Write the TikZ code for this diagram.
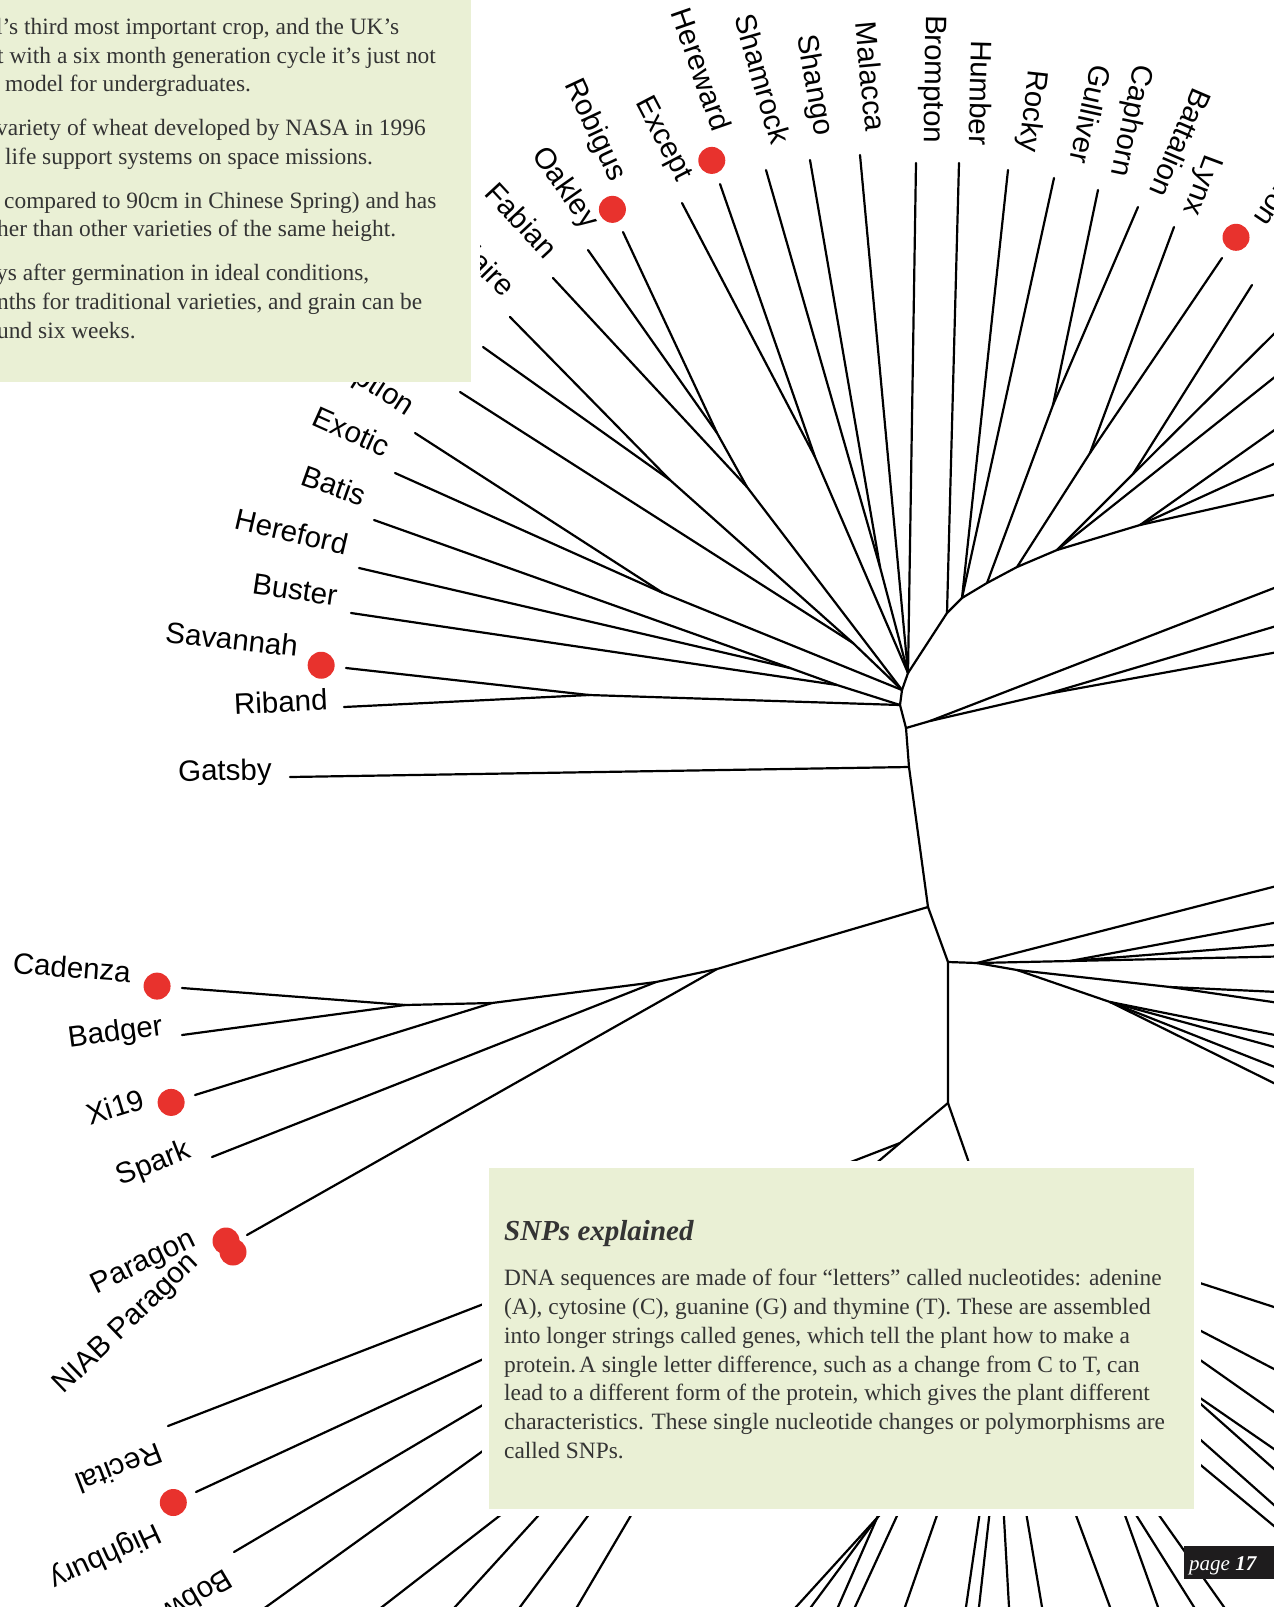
\documentclass[tikz,border=0pt]{standalone}
\usepackage{fontspec}
\setmainfont{Liberation Serif}
\setsansfont{Liberation Sans}
\usetikzlibrary{calc}

\definecolor{panelgreen}{RGB}{234,240,213}
\definecolor{snpred}{RGB}{232,50,45}
\definecolor{inkgrey}{RGB}{52,52,52}
\definecolor{tagblack}{RGB}{30,28,29}

\begin{document}
\begin{tikzpicture}[x=1pt, y=-1pt,
  br/.style={line width=2.2pt, line cap=round, line join=round},
  lab/.style={font=\sffamily\fontsize{29.5}{32}\selectfont, inner sep=0pt},
  hit/.style={circle, fill=snpred, minimum size=27pt, inner sep=0pt},
  copy/.style={anchor=base west, inner sep=0pt, text=inkgrey, font=\fontsize{23.4}{28}\selectfont},
  panel/.style={fill=panelgreen},
  snpbox/.style={fill=panelgreen, draw=white, line width=7pt}]

  \useasboundingbox (0,0) rectangle (1274,1607);
  \clip (0,0) rectangle (1274,1607);

  \foreach \nm/\cx/\cy in {b1/908/673, b2/902/690, b3/900/705, b4/906/728, b5/909/767, b6/928/907, b7/948/962, b8/948/1103,
      pa/670/480, pb/853/643, pc/663/593, pd/747/487, pe/717/433, pf/815/457, pg/880/567, ph/790/668, pi/837/685, pr/589/695,
      q1/947/613, q2/962/598, q3/987/583, q4/1017/567, q5/1057/550, q6/1140/525, qc/1053/405, qn/1090/453, qp/1133/474,
      k1/930/721, k2/1047/694, m1/977/963, m2/1070/961, m3/1017/970, m4/1110/1002, m5/1170/987,
      cb/405/1005, cx/492/1003, cs/656/982, cp/717/969, l1/900/1143, l2/840/1194, l3/968/1160, l4/990/1230}
    \coordinate (\nm) at (\cx,\cy);

  \draw[br] (pa) -- (pb) -- (b2);
  \draw[br] (pc) -- (b2);
  \draw[br] (pe) -- (pd) -- (b2);
  \draw[br] (pf) -- (b1);
  \draw[br] (pg) -- (b1);
  \draw[br] (ph) -- (pi) -- (b3);
  \draw[br] (pr) -- (b3);
  \draw[br] (b1) -- (b2) -- (b3) -- (b4) -- (b5) -- (b6) -- (b7) -- (b8);
  \draw[br] (b1) -- (q1) -- (q2) -- (q3) -- (q4) -- (q5) -- (q6);
  \draw[br] (q3) -- (qc);
  \draw[br] (q4) -- (qn);
  \draw[br] (q5) -- (qp);
  \draw[br] (b4) -- (k1) -- (k2);
  \draw[br] (b7) -- (m1) -- (m2);
  \draw[br] (m1) -- (m3) -- (m5);
  \draw[br] (m3) -- (m4);
  \draw[br] (b6) -- (cp) -- (cs) -- (cx) -- (cb);
  \draw[br] (b8) -- (l1) -- (l2);
  \draw[br] (b8) -- (l3) -- (l4);

  \foreach \up/\ex/\ey [count=\i] in {pa/483/347, pb/460/392, qp/1252/285, qp/1300/308, q5/1300/357,
      q6/1300/412, q6/1300/452, q6/1300/489, k1/1300/578, k2/1300/619, k2/1300/648,
      m1/1300/880, m2/1300/918, m2/1300/943, m2/1300/956, m5/1300/993, m5/1300/1006,
      m4/1300/1040, m4/1300/1054, m4/1300/1077, m4/1300/1096, l2/234/1630}
  {
    \coordinate (x\i) at (\ex,\ey);
    \draw[br] (\up) -- (x\i);
  }

  \foreach \ax/\ay/\bx/\by [count=\i] in {1203/1284/1274/1307, 1203/1332/1274/1369, 1203/1362/1274/1412,
      1203/1400/1274/1449, 1203/1406/1274/1469, 1203/1442/1274/1505, 1203/1467/1274/1526,
      877/1518/796/1607, 877/1518/811/1607, 877/1518/838/1607, 896/1518/855/1607, 936/1518/905/1607,
      979/1518/966/1607, 989/1518/979/1607, 1004/1518/1009/1607, 1027/1518/1042/1607, 1077/1518/1110/1607,
      1126/1518/1158/1607, 1138/1518/1194/1607, 1161/1518/1224/1607,
      498/1517/382/1607, 537/1517/455/1607, 587/1517/520/1607, 630/1517/577/1607}
  {
    \coordinate (s\i) at ($(\ax,\ay)!-.8!(\bx,\by)$);
    \coordinate (f\i) at ($(\ax,\ay)!1.3!(\bx,\by)$);
    \draw[br] (s\i) -- (f\i);
  }

  \foreach \nm/\tx/\ty/\up/\gp/\sh/\txt in {
      claire/510/317/pa/18/10/Claire, option/415/433/pc/16/12/Option, exotic/395/473/pc/16/12/Exotic,
      batis/374/520/ph/16/11/Batis, hereford/359/568/ph/16/12/Hereford, buster/351/613/pi/16/7/Buster,
      savannah/346/668/pr/50/8/Savannah, riband/344/707/pr/16/0/Riband, gatsby/290/777/b5/18/0/Gatsby,
      fabian/553/278/pd/18/8/Fabian, oakley/588/250/pe/18/11/Oakley, robigus/623/232/pe/50/12/Robigus,
      except/682/203/pf/20/8/Except, hereward/720/184/pf/50/12/Hereward, shamrock/766/170/pg/22/14/Shamrock,
      shango/810/160/pg/22/11/Shango, malacca/860/155/b1/22/10/Malacca, brompton/916/163/b1/20/10/Brompton,
      humber/959/163/q1/18/12/Humber, rocky/1008/170/q2/20/12/Rocky, gulliver/1054/178/q2/20/14/Gulliver,
      caphorn/1098/190/qc/18/12/Caphorn, battalion/1138/207/qc/18/6/Battalion, lynx/1174/227/qn/18/6/Lynx,
      avalon/1222/258/qn/50/6/Avalon, cadenza/182/988/cb/52/4/Cadenza, badger/182/1035/cb/18/5/Badger,
      xi19/195/1095/cx/50/4/Xi19, spark/212/1157/cs/18/9/Spark}
  {
    \coordinate (\nm) at (\tx,\ty);
    \draw[br] (\nm) -- (\up);
    \path let \p1=($(\up)-(\nm)$), \n1={atan2(\y1,\x1)} in
      node[lab, rotate=\n1, anchor=mid east] (\nm-l) at ($(\nm)+(\n1+180:\gp pt)+(\n1+90:\sh pt)$) {\txt};
  }

  \foreach \nm/\tx/\ty/\up/\gp/\sh/\txt in {
      recital/168/1426/l1/16/14/Recital, highbury/196/1492/l2/50/14/Highbury, bobwhite/234/1552/l2/16/12/Bobwhite}
  {
    \coordinate (\nm) at (\tx,\ty);
    \draw[br] (\nm) -- (\up);
    \path let \p1=($(\up)-(\nm)$), \n1={atan2(\y1,\x1)} in
      node[lab, rotate=\n1+180, anchor=mid west] (\nm-l) at ($(\nm)+(\n1+180:\gp pt)+(\n1-90:\sh pt)$) {\txt};
  }

  \coordinate (paragon) at (247,1235);
  \draw[br] (paragon) -- (cp);

  \foreach \nm/\up in {robigus/pe, hereward/pf, avalon/qn, savannah/pr, cadenza/cb, xi19/cx, highbury/l2}
    \node[hit] (\nm-d) at ($(\nm)!-25pt!(\up)$) {};
  \node[hit] (paragon-d) at (226,1241) {};
  \node[hit] (niab-d) at (233,1252) {};
  \node[lab, rotate=26, anchor=mid east] (paragon-l) at (196,1243) {Paragon};
  \node[lab, rotate=44, anchor=mid east] (niab-l) at (198,1262) {NIAB Paragon};

  \fill[white] (471,-1) rectangle (480,382);
  \fill[panel] (-1,-1) rectangle (471,382);
  \foreach \lx/\ly/\ltxt [count=\i] in {
      -4/34/{l’s third most important crop, and the UK’s},
      -3/63/{t with a six month generation cycle it’s just not},
      5/91/{model for undergraduates.},
      -4/135/{variety of wheat developed by NASA in 1996},
      5/164/{life support systems on space missions.},
      4/208/{compared to 90cm in Chinese Spring) and has},
      -3/236/{her than other varieties of the same height.},
      -4/280/{ys after germination in ideal conditions,},
      -3/309/{nths for traditional varieties, and grain can be},
      -3/338/{und six weeks.}}
    \node[copy] (wheat-l\i) at (\lx,\ly) {\ltxt};

  \path[snpbox] (485.5,1164.5) rectangle (1197.5,1512.5);
  \node[anchor=base west, inner sep=0pt, text=inkgrey, font=\bfseries\itshape\fontsize{29}{30}\selectfont] (snp-title) at (504,1240) {SNPs explained};
  \foreach \ly/\ltxt [count=\i] in {
      1285/{DNA sequences are made of four “letters” called nucleotides: adenine},
      1314/{(A), cytosine (C), guanine (G) and thymine (T). These are assembled},
      1343/{into longer strings called genes, which tell the plant how to make a},
      1372/{protein.\hspace{.12em}A single letter difference, such as a change from C to T, can},
      1400/{lead to a different form of the protein, which gives the plant different},
      1429/{characteristics. These single nucleotide changes or polymorphisms are},
      1458/{called SNPs.}}
    \node[copy] (snp-l\i) at (504,\ly) {\ltxt};

  \fill[tagblack] (1184,1546) rectangle (1280,1579);
  \node[anchor=base west, inner sep=0pt, text=white, font=\itshape\fontsize{21}{22}\selectfont] (page) at (1189,1570) {page \textbf{17}};
\end{tikzpicture}
\end{document}
